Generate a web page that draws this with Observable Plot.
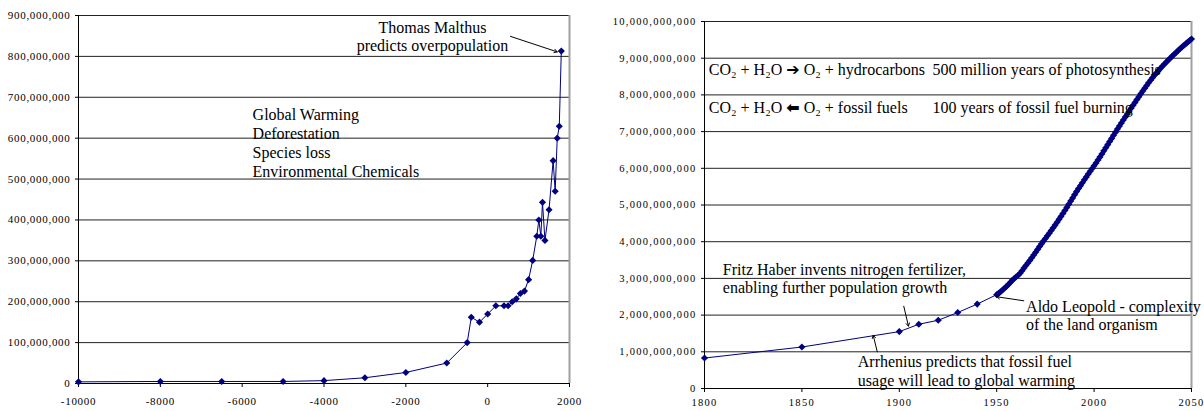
<!DOCTYPE html>
<html>
<head>
<meta charset="utf-8">
<script src="https://cdn.jsdelivr.net/npm/d3@7"></script>
<script src="https://cdn.jsdelivr.net/npm/@observablehq/plot@0.6"></script>
<style>
  html, body { margin: 0; padding: 0; background: #fff; }
  #wrap { display: flex; flex-direction: row; width: 1204px; height: 411px; }
  .leftc text, .rightc text { font-family: 'Liberation Serif', 'Times New Roman', serif !important; }
  .leftc text { letter-spacing: 0.7px; }
  .rightc text { letter-spacing: 1.3px; }
  .leftc g[font-size="16"] text, .rightc g[font-size="16"] text { letter-spacing: 0; }
  tspan.arw { font-family: 'DejaVu Sans', sans-serif !important; font-weight: bold; }
</style>
</head>
<body>
<div id="wrap"></div>
<script>
// ---------- Left panel data (world population, 10000 BC - 1800) ----------
const leftYears = [-10000, -8000, -6500, -5000, -4000, -3000, -2000, -1000, -500, -400, -200, 1,
  200, 400, 500, 600, 700, 800, 900, 1000, 1100, 1200, 1250, 1300, 1340, 1400, 1500, 1600, 1650, 1700, 1750, 1800];
const leftPopMillions = [4, 5, 5, 5, 7, 14, 27, 50, 100, 162, 150, 170,
  190, 190, 190, 200, 207, 220, 226, 254, 301, 360, 400, 360, 443, 350, 425, 545, 470, 600, 629, 813];
const leftXTicks = [-10000, -8000, -6000, -4000, -2000, 0, 2000];
const leftYTicks = [0, 100e6, 200e6, 300e6, 400e6, 500e6, 600e6, 700e6, 800e6, 900e6];

// ---------- Right panel data (world population, 1800 - 2050) ----------
const rightYears = [1800, 1850, 1900, 1910, 1920, 1930, 1940,
  1950, 1951, 1952, 1953, 1954, 1955, 1956, 1957, 1958, 1959,
  1960, 1961, 1962, 1963, 1964, 1965, 1966, 1967, 1968, 1969,
  1970, 1971, 1972, 1973, 1974, 1975, 1976, 1977, 1978, 1979,
  1980, 1981, 1982, 1983, 1984, 1985, 1986, 1987, 1988, 1989,
  1990, 1991, 1992, 1993, 1994, 1995, 1996, 1997, 1998, 1999,
  2000, 2001, 2002, 2003, 2004, 2005, 2006, 2007, 2008, 2009,
  2010, 2011, 2012, 2013, 2014, 2015, 2016, 2017, 2018, 2019,
  2020, 2021, 2022, 2023, 2024, 2025, 2026, 2027, 2028, 2029,
  2030, 2031, 2032, 2033, 2034, 2035, 2036, 2037, 2038, 2039,
  2040, 2041, 2042, 2043, 2044, 2045, 2046, 2047, 2048, 2049, 2050];
const rightPopBillions = [0.83, 1.13, 1.55, 1.75, 1.86, 2.07, 2.30,
  2.557, 2.594, 2.636, 2.682, 2.730, 2.782, 2.835, 2.891, 2.948, 2.997,
  3.043, 3.084, 3.140, 3.210, 3.281, 3.350, 3.421, 3.490, 3.562, 3.637,
  3.713, 3.790, 3.867, 3.942, 4.017, 4.089, 4.160, 4.232, 4.304, 4.379,
  4.453, 4.529, 4.609, 4.690, 4.770, 4.851, 4.935, 5.021, 5.107, 5.194,
  5.282, 5.365, 5.447, 5.527, 5.607, 5.687, 5.765, 5.843, 5.919, 5.994,
  6.068, 6.145, 6.225, 6.305, 6.390, 6.475, 6.560, 6.645, 6.730, 6.815,
  6.900, 6.985, 7.070, 7.150, 7.235, 7.315, 7.395, 7.475, 7.555, 7.635,
  7.715, 7.795, 7.875, 7.950, 8.030, 8.105, 8.180, 8.255, 8.330, 8.400,
  8.470, 8.535, 8.600, 8.660, 8.720, 8.780, 8.835, 8.890, 8.945, 9.000,
  9.050, 9.100, 9.150, 9.200, 9.250, 9.300, 9.345, 9.390, 9.435, 9.480, 9.525];
const rightXTicks = [1800, 1850, 1900, 1950, 2000, 2050];
const rightYTicks = [0, 1e9, 2e9, 3e9, 4e9, 5e9, 6e9, 7e9, 8e9, 9e9, 10e9];

// ---------- Annotations (data coordinates) ----------
const leftNotesCenter = [
  {x: -1350, y: 850e6, text: "Thomas Malthus\npredicts overpopulation"}
];
const leftNotesStart = [
  {x: -5745, y: 589e6, text: "Global Warming\nDeforestation\nSpecies loss\nEnvironmental Chemicals"}
];
const leftArrows = [{x1: 556, y1: 849e6, x2: 1700, y2: 811e6}];

const rightNotes = [
  {x: 1802.2, y: 8.70e9, text: "CO\u2082 + H\u2082O \u2192 O\u2082 + hydrocarbons"},
  {x: 1917, y: 8.70e9, text: "500 million years of photosynthesis"},
  {x: 1802.2, y: 7.67e9, text: "CO\u2082 + H\u2082O \u2190 O\u2082 + fossil fuels"},
  {x: 1917, y: 7.67e9, text: "100 years of fossil fuel burning"},
  {x: 1809.4, y: 3.01e9, text: "Fritz Haber invents nitrogen fertilizer,\nenabling further population growth"},
  {x: 1878.7, y: 0.49e9, text: "Arrhenius predicts that fossil fuel\nusage will lead to global warming"},
  {x: 1965.1, y: 2.00e9, text: "Aldo Leopold - complexity\nof the land organism"}
];
const rightArrows = [
  {x1: 1902.3, y1: 2.24e9, x2: 1904.7, y2: 1.70e9},
  {x1: 1888.7, y1: 1.00e9, x2: 1886.6, y2: 1.45e9},
  {x1: 1963.9, y1: 2.39e9, x2: 1950.0, y2: 2.50e9}
];

const leftData = leftYears.map((y, i) => ({year: y, pop: leftPopMillions[i] * 1e6}));
const rightData = rightYears.map((y, i) => ({year: y, pop: rightPopBillions[i] * 1e9}));

const NAVY = "#000080";
const GRID = "#222";
const fmt = d3.format(",");
const FONT = "'Liberation Serif', 'Times New Roman', serif";

const left = Plot.plot({
  className: "leftc",
  width: 590, height: 411,
  marginLeft: 78, marginRight: 21, marginTop: 15, marginBottom: 28,
  style: {fontFamily: FONT, fontSize: "11px", color: "#000", background: "#fff", overflow: "visible"},
  x: {domain: [-10000, 2000], ticks: leftXTicks, tickFormat: d => String(d), tickSize: 4, tickPadding: 10, label: null},
  y: {domain: [0, 900e6], ticks: leftYTicks, tickFormat: fmt, tickSize: 3, tickPadding: 5, label: null},
  marks: [
    Plot.ruleY(leftYTicks, {stroke: GRID, strokeWidth: 1}),
    Plot.ruleX([2000], {stroke: "#a0a0a0", strokeWidth: 2}),
    Plot.ruleX([-10000], {stroke: "#000", strokeWidth: 1}),
    Plot.ruleY([0], {stroke: "#000", strokeWidth: 1}),
    Plot.line(leftData, {x: "year", y: "pop", stroke: NAVY, strokeWidth: 1}),
    Plot.dot(leftData, {x: "year", y: "pop", symbol: "diamond2", r: 3.2, fill: NAVY, stroke: null}),
    Plot.text(leftNotesCenter, {x: "x", y: "y", text: "text", textAnchor: "middle", fontSize: 16, lineHeight: 1.17, lineAnchor: "middle", fill: "#000"}),
    Plot.text(leftNotesStart, {x: "x", y: "y", text: "text", textAnchor: "start", fontSize: 16, lineHeight: 1.19, lineAnchor: "middle", fill: "#000"}),
    Plot.arrow(leftArrows, {x1: "x1", y1: "y1", x2: "x2", y2: "y2", stroke: "#000", strokeWidth: 1, headLength: 5})
  ]
});

const right = Plot.plot({
  className: "rightc",
  width: 614, height: 411,
  marginLeft: 114, marginRight: 13, marginTop: 21, marginBottom: 23,
  style: {fontFamily: FONT, fontSize: "10.5px", color: "#000", background: "#fff", overflow: "visible"},
  x: {domain: [1800, 2050], ticks: rightXTicks, tickFormat: d => String(d), tickSize: 4, tickPadding: 6, label: null},
  y: {domain: [0, 10e9], ticks: rightYTicks, tickFormat: fmt, tickSize: 3, tickPadding: 5, label: null},
  marks: [
    Plot.ruleY(rightYTicks, {stroke: GRID, strokeWidth: 1}),
    Plot.ruleX([2050], {stroke: "#a0a0a0", strokeWidth: 2}),
    Plot.ruleX([1800], {stroke: "#000", strokeWidth: 1}),
    Plot.ruleY([0], {stroke: "#000", strokeWidth: 1}),
    Plot.line(rightData, {x: "year", y: "pop", stroke: NAVY, strokeWidth: 1}),
    Plot.dot(rightData, {x: "year", y: "pop", symbol: "diamond2", r: 3.2, fill: NAVY, stroke: null}),
    Plot.text(rightNotes, {x: "x", y: "y", text: "text", textAnchor: "start", fontSize: 16, lineHeight: 1.17, lineAnchor: "middle", fill: "#000"}),
    Plot.arrow(rightArrows, {x1: "x1", y1: "y1", x2: "x2", y2: "y2", stroke: "#000", strokeWidth: 1, headLength: 5})
  ]
});

// Force the serif face on every label (axes included)
[left, right].forEach(svg => svg.querySelectorAll("text").forEach(t => t.style.fontFamily = FONT));

// Render the chemical arrows in a heavier glyph, as in the original text boxes
right.querySelectorAll("text").forEach(t => {
  const s = t.textContent;
  if (t.children.length === 0 && (s.includes("\u2192") || s.includes("\u2190"))) {
    const parts = s.split(/([\u2192\u2190])/);
    t.textContent = "";
    parts.forEach(p => {
      const ts = document.createElementNS("http://www.w3.org/2000/svg", "tspan");
      if (p === "\u2192" || p === "\u2190") {
        ts.setAttribute("class", "arw");
        ts.textContent = p === "\u2192" ? "\u2794" : "\u2B05";
      } else {
        ts.textContent = p;
      }
      t.appendChild(ts);
    });
  }
});

const wrap = document.getElementById("wrap");
wrap.appendChild(left);
wrap.appendChild(right);
</script>
</body>
</html>
